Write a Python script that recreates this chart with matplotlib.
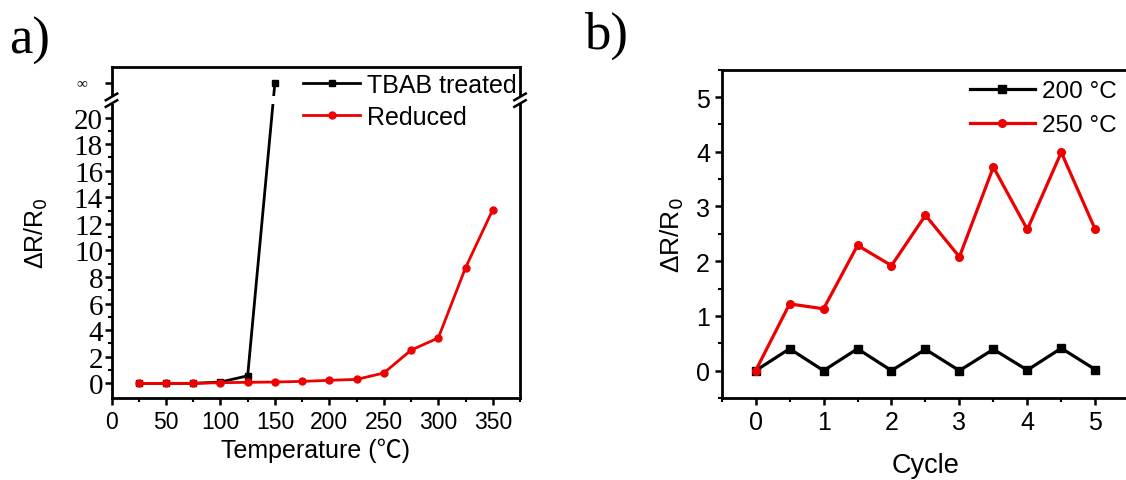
import numpy as np
import matplotlib
matplotlib.use("Agg")
import matplotlib.pyplot as plt
from matplotlib.lines import Line2D
from matplotlib.patches import Rectangle
from matplotlib.ticker import MultipleLocator, FixedLocator
import matplotlib.transforms as mtransforms

plt.rcParams['font.family'] = ['Liberation Sans', 'Noto Sans CJK SC', 'DejaVu Sans']

# panel a data
temp = [25, 50, 75, 100, 125, 150, 175, 200, 225, 250, 275, 300, 325, 350]
reduced = [0, 0, 0, 0.05, 0.08, 0.1, 0.15, 0.23, 0.3, 0.78, 2.5, 3.42, 8.7, 13.07]
temp_tbab = [25, 50, 75, 100, 125, 150]
tbab = [0, 0, 0, 0.1, 0.57, np.inf]   # last point goes off to infinity

# panel b data
cycle = [0, 0.5, 1, 1.5, 2, 2.5, 3, 3.5, 4, 4.5, 5]
r200 = [0, 0.4, 0, 0.4, 0, 0.39, 0, 0.39, 0.01, 0.41, 0.02]
r250 = [0, 1.22, 1.13, 2.29, 1.92, 2.84, 2.08, 3.72, 2.58, 3.99, 2.58]

INF_POS = 22.6          # where the infinity row sits on the broken axis
BRK_LO, BRK_HI = 21.0, 21.6

W, H = 1126, 481
fig = plt.figure(figsize=(W / 100, H / 100), dpi=100)

def style_axes(ax):
    for s in ax.spines.values():
        s.set_linewidth(2.0)
    ax.tick_params(which='major', direction='out', length=5, width=1.8)
    ax.tick_params(which='minor', direction='out', length=3, width=1.5)

def fig_pt(x, y):
    # pixel position from top-left -> figure fraction
    return (x / W, 1 - y / H)

# ---------------- panel a ----------------
ax = fig.add_axes([111.5 / W, 82 / H, 408.5 / W, 331 / H])
style_axes(ax)
tb = np.where(np.isinf(tbab), INF_POS, tbab)
ax.plot(temp_tbab, tb, color='black', lw=2, marker='s', ms=5, label='TBAB treated', zorder=2)
ax.plot(temp, reduced, color='#ee0000', lw=2, marker='o', ms=5, label='Reduced', zorder=2.1)
ax.set_xlim(0, 375)
ax.set_ylim(-1.1, 23.8)
ax.xaxis.set_major_locator(MultipleLocator(50))
ax.xaxis.set_minor_locator(MultipleLocator(25))
yt = list(range(0, 21, 2)) + [INF_POS]
ax.yaxis.set_major_locator(FixedLocator(yt))
ax.set_yticklabels([str(v) for v in range(0, 21, 2)] + [''])
ax.yaxis.set_minor_locator(FixedLocator(range(1, 21, 2)))
for lab in ax.get_yticklabels():
    lab.set_family('Liberation Serif')
    lab.set_fontsize(21)
ax.tick_params(axis='y', pad=1)
ax.tick_params(axis='x', labelsize=16.5)
trans = mtransforms.blended_transform_factory(ax.transAxes, ax.transData)
ax.text(-0.072, INF_POS, '∞', transform=trans, ha='center', va='center',
        fontsize=11, family=['Liberation Serif', 'DejaVu Sans'])

# axis break: blank band and slashes
ax.axhspan(BRK_LO, BRK_HI, color='white', zorder=2.3, lw=0)
for xa in (0, 1):
    ax.add_patch(Rectangle((xa - 0.01, BRK_LO), 0.02, BRK_HI - BRK_LO, transform=trans,
                           color='white', clip_on=False, zorder=3, lw=0))
    for yb in (BRK_LO + 0.05, BRK_HI - 0.05):
        ax.add_line(Line2D([xa - 0.014, xa + 0.014], [yb - 0.25, yb + 0.25], transform=trans,
                           color='black', lw=1.8, clip_on=False, zorder=4))

ax.set_xlabel('Temperature (℃)', fontsize=18)
ax.xaxis.set_label_coords(0.5, -0.118)
ax.set_ylabel('ΔR/R$_0$', fontsize=18)
ax.yaxis.set_label_coords(-0.15, 0.5)
ax.legend(loc='upper left', bbox_to_anchor=fig_pt(303, 74), bbox_transform=fig.transFigure,
          frameon=False, fontsize=18, handlelength=2.28, handletextpad=0.28,
          borderpad=0, borderaxespad=0, labelspacing=0.32)
fig.text(9 / W, 1 - 41 / H, 'a)', fontsize=38, family='Liberation Serif', va='center')

# ---------------- panel b ----------------
bx = fig.add_axes([721.7 / W, 82 / H, 407.5 / W, 328.3 / H])
style_axes(bx)
bx.plot(cycle, r200, color='black', lw=2.3, marker='s', ms=5.5, label='200 °C')
bx.plot(cycle, r250, color='#ee0000', lw=2.3, marker='o', ms=5.5, label='250 °C')
bx.set_xlim(-0.5, 5.5)
bx.set_ylim(-0.5, 5.5)
bx.xaxis.set_major_locator(MultipleLocator(1))
bx.xaxis.set_minor_locator(MultipleLocator(0.5))
bx.yaxis.set_major_locator(MultipleLocator(1))
bx.yaxis.set_minor_locator(MultipleLocator(0.5))
bx.tick_params(labelsize=18)
bx.set_xlabel('Cycle', fontsize=19.5)
bx.xaxis.set_label_coords(0.5, -0.165)
bx.set_ylabel('ΔR/R$_0$', fontsize=19)
bx.yaxis.set_label_coords(-0.088, 0.5)
bx.legend(loc='upper left', bbox_to_anchor=fig_pt(970, 81), bbox_transform=fig.transFigure,
          frameon=False, fontsize=17.5, handlelength=2.67, handletextpad=0.3,
          borderpad=0, borderaxespad=0, labelspacing=0.5)
fig.text(584 / W, 1 - 36 / H, 'b)', fontsize=38, family='Liberation Serif', va='center')

fig.savefig('out.png', dpi=100)
